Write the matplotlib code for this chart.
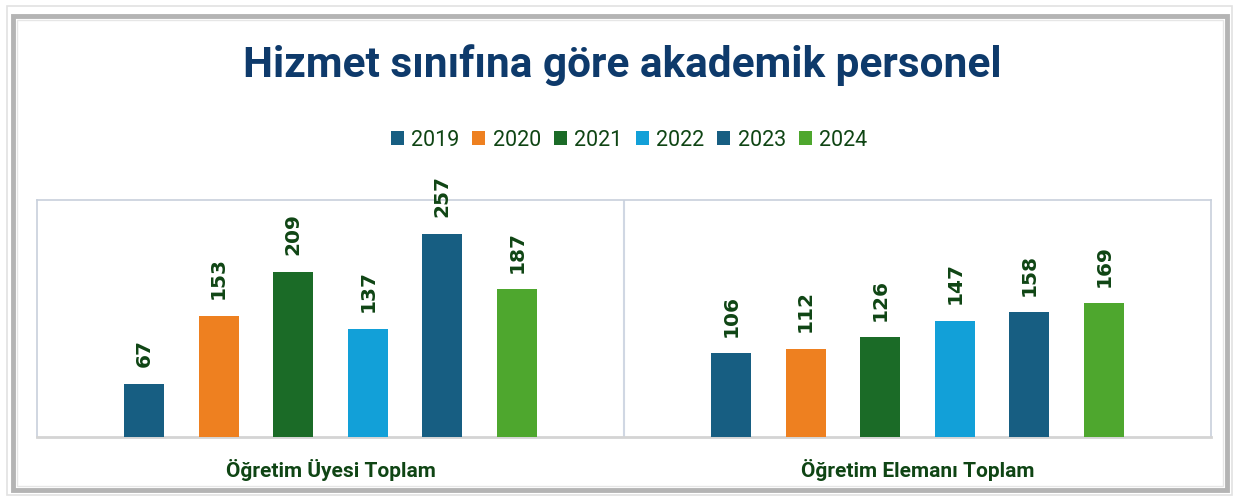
import matplotlib.pyplot as plt
import numpy as np
from matplotlib.patches import Rectangle

years = ['2019', '2020', '2021', '2022', '2023', '2024']
groups = ['Öğretim Üyesi Toplam', 'Öğretim Elemanı Toplam']
uyesi = [67, 153, 209, 137, 257, 187]
elemani = [106, 112, 126, 147, 158, 169]
colors = ['#175e82', '#ee8020', '#1b6b27', '#12a0d8', '#175e82', '#4ea72e']

label_color = '#0f4514'
title_color = '#0e3a6b'

W, H = 1237, 499
fig = plt.figure(figsize=(W / 100, H / 100), dpi=100)
ax = fig.add_axes([37 / W, 1 - 437 / H, (1211 - 37) / W, (437 - 200) / H])

values = np.array([uyesi, elemani])
step = 0.127
width = 0.068
for j, year in enumerate(years):
    xs = np.arange(len(groups)) + 0.5 + (j - 2.5) * step
    bars = ax.bar(xs, values[:, j], width=width, color=colors[j], label=year, zorder=3)
    for b, v in zip(bars, values[:, j]):
        ax.annotate(str(v), (b.get_x() + b.get_width() / 2, v), xytext=(0, 12),
                    textcoords='offset points', ha='center', va='bottom',
                    rotation=90, fontsize=14.5, fontweight='bold', color=label_color,
                    family='DejaVu Sans')

ax.set_xlim(0, 2)
ax.set_ylim(0, 300)
ax.axvline(1, color='#d0d7e3', lw=1.5, zorder=1)
ax.set_xticks([])
ax.set_yticks([])
for sp in ax.spines.values():
    sp.set_color('#c8d0dc')
    sp.set_linewidth(1.2)
ax.spines['bottom'].set_color('#d4d4d4')
ax.spines['bottom'].set_linewidth(2)

for i, g in enumerate(groups):
    ax.text(i + 0.5, -0.14, g, transform=ax.get_xaxis_transform(), ha='center', va='center',
            fontsize=15, fontweight='bold', color=label_color, family='Roboto')

fig.text(0.503, 1 - 65 / H, 'Hizmet sınıfına göre akademik personel', ha='center', va='center',
         fontsize=30.5, fontweight='bold', color=title_color, family='Roboto')

leg = fig.legend(loc='center', bbox_to_anchor=(629 / W, 1 - 140 / H), ncol=6, frameon=False,
                 handlelength=0.6, handleheight=0.6, handletextpad=0.35,
                 columnspacing=0.6, prop={'family': 'Roboto', 'size': 15.5})
for t in leg.get_texts():
    t.set_color(label_color)

# outer frame
fig.patches.append(Rectangle((7 / W, 1 - 495 / H), (1232 - 7) / W, (495 - 6) / H,
                             transform=fig.transFigure, fill=False, ec='#e2e2e2', lw=1.2))
fig.patches.append(Rectangle((13 / W, 1 - 490 / H), (1227 - 13) / W, (490 - 16) / H,
                             transform=fig.transFigure, fill=False, ec='#b4b4b4', lw=3.5))
fig.patches.append(Rectangle((17 / W, 1 - 486 / H), (1223 - 17) / W, (486 - 20) / H,
                             transform=fig.transFigure, fill=False, ec='#e6e6e6', lw=1))

fig.savefig('out.png', dpi=100)
